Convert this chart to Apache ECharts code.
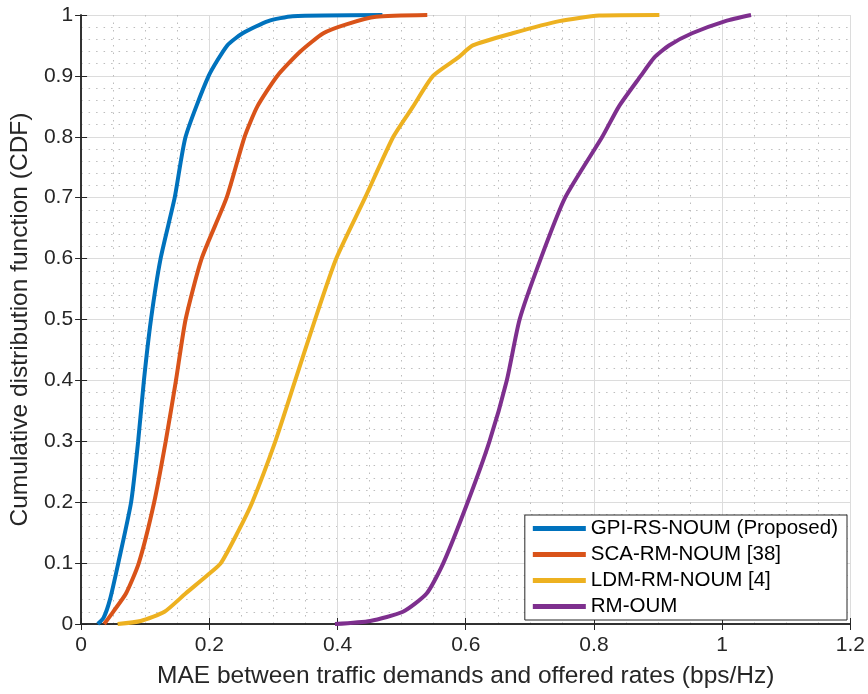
<!DOCTYPE html>
<html>
<head>
    <meta charset="utf-8">
    <title>CDF of MAE</title>
    <script src="https://cdn.jsdelivr.net/npm/echarts@6/dist/echarts.min.js"></script>
    <style>
        html, body { margin: 0; padding: 0; background: #fff; }
        #chart { width: 868px; height: 694px; }
    </style>
</head>
<body>
    <div id="chart"></div>
    <script type="text/javascript">
        // values
        var seriesNames = ['GPI-RS-NOUM (Proposed)', 'SCA-RM-NOUM [38]', 'LDM-RM-NOUM [4]', 'RM-OUM'];
        var seriesColors = ['#0072BD', '#D95319', '#EDB120', '#7E2F8E'];

        var gpiX = [0.026, 0.035, 0.045, 0.058, 0.078, 0.089, 0.098, 0.109, 0.124, 0.146, 0.163, 0.199, 0.228, 0.252, 0.292, 0.33, 0.47];
        var gpiY = [0, 0.01, 0.04, 0.1, 0.2, 0.3, 0.4, 0.5, 0.6, 0.7, 0.8, 0.9, 0.95, 0.97, 0.99, 0.998, 1];

        var scaX = [0.036, 0.05, 0.07, 0.09, 0.114, 0.132, 0.148, 0.163, 0.188, 0.227, 0.255, 0.275, 0.306, 0.342, 0.378, 0.415, 0.46, 0.54];
        var scaY = [0, 0.02, 0.05, 0.1, 0.2, 0.3, 0.4, 0.5, 0.6, 0.7, 0.8, 0.85, 0.9, 0.94, 0.97, 0.985, 0.997, 1];

        var ldmX = [0.057, 0.093, 0.13, 0.163, 0.197, 0.218, 0.244, 0.267, 0.303, 0.334, 0.365, 0.398, 0.443, 0.487, 0.518, 0.549, 0.588, 0.611, 0.673, 0.746, 0.808, 0.902];
        var ldmY = [0, 0.005, 0.02, 0.05, 0.08, 0.1, 0.15, 0.2, 0.3, 0.4, 0.5, 0.6, 0.7, 0.8, 0.85, 0.9, 0.93, 0.95, 0.97, 0.99, 0.999, 1];

        var rmX = [0.396, 0.451, 0.502, 0.539, 0.565, 0.603, 0.637, 0.664, 0.684, 0.717, 0.755, 0.813, 0.839, 0.873, 0.894, 0.917, 0.953, 1.005, 1.045];
        var rmY = [0, 0.005, 0.02, 0.05, 0.1, 0.2, 0.3, 0.4, 0.5, 0.6, 0.7, 0.8, 0.85, 0.9, 0.93, 0.95, 0.97, 0.99, 1];

        var xTicks = [0, 0.2, 0.4, 0.6, 0.8, 1, 1.2];
        var yTicks = [0, 0.1, 0.2, 0.3, 0.4, 0.5, 0.6, 0.7, 0.8, 0.9, 1];

        function pairs(xs, ys) {
            var out = [];
            for (var i = 0; i < xs.length; i++) {
                out.push([xs[i], ys[i]]);
            }
            return out;
        }

        var allData = [pairs(gpiX, gpiY), pairs(scaX, scaY), pairs(ldmX, ldmY), pairs(rmX, rmY)];

        var fontFam = 'Liberation Sans, Arial, Helvetica, sans-serif';
        var axisColor = '#262626';

        function fmt(v) {
            // MATLAB style tick labels: 0, 0.2, 1 ...
            return String(parseFloat(v.toFixed(2)));
        }

        var series = [];
        for (var i = 0; i < allData.length; i++) {
            series.push({
                name: seriesNames[i],
                type: 'line',
                data: allData[i],
                showSymbol: false,
                smooth: 0.2,
                lineStyle: { width: 4, color: seriesColors[i] },
                itemStyle: { color: seriesColors[i] },
                z: 3
            });
        }

        var chart = echarts.init(document.getElementById('chart'));
        var option = {
            animation: false,
            backgroundColor: '#fff',
            textStyle: { fontFamily: fontFam },
            grid: { left: 80, top: 15, right: 16, bottom: 68 },
            legend: {
                data: seriesNames,
                right: 21,
                bottom: 74,
                orient: 'vertical',
                backgroundColor: '#fff',
                borderColor: axisColor,
                borderWidth: 1,
                padding: [3, 9, 3, 8],
                itemGap: 5,
                itemWidth: 53,
                itemHeight: 5,
                icon: 'rect',
                textStyle: { fontSize: 20.5, color: '#000', fontFamily: fontFam }
            },
            xAxis: [{
                type: 'value',
                min: 0, max: 1.2, interval: 0.2,
                name: 'MAE between traffic demands and offered rates (bps/Hz)',
                nameLocation: 'middle',
                nameGap: 40,
                nameTextStyle: { fontSize: 24.5, color: axisColor },
                axisLine: { show: true, lineStyle: { color: axisColor, width: 1.5 } },
                axisTick: { show: true, inside: true, length: 6, lineStyle: { color: axisColor } },
                axisLabel: { fontSize: 21, color: axisColor, margin: 11, formatter: fmt },
                splitLine: { show: true, lineStyle: { color: '#dcdcdc', width: 1 } },
                minorTick: { show: false, splitNumber: 4 },
                minorSplitLine: { show: true, lineStyle: { color: '#bdbdbd', type: [1.5, 6], width: 1 } }
            }, {
                type: 'value',
                position: 'top',
                min: 0, max: 1.2, interval: 0.2,
                axisLine: { show: true, lineStyle: { color: axisColor, width: 1.5 } },
                axisTick: { show: true, inside: true, length: 6, lineStyle: { color: axisColor } },
                axisLabel: { show: false },
                splitLine: { show: false }
            }],
            yAxis: [{
                type: 'value',
                min: 0, max: 1, interval: 0.1,
                name: 'Cumulative distribution function (CDF)',
                nameLocation: 'middle',
                nameGap: 42,
                nameTextStyle: { fontSize: 24.5, color: axisColor },
                axisLine: { show: true, lineStyle: { color: axisColor, width: 1.5 } },
                axisTick: { show: true, inside: true, length: 6, lineStyle: { color: axisColor } },
                axisLabel: { fontSize: 21, color: axisColor, margin: 8, formatter: fmt },
                splitLine: { show: true, lineStyle: { color: '#dcdcdc', width: 1 } },
                minorTick: { show: false, splitNumber: 5 },
                minorSplitLine: { show: true, lineStyle: { color: '#bdbdbd', type: [1.5, 6], width: 1 } }
            }, {
                type: 'value',
                position: 'right',
                min: 0, max: 1, interval: 0.1,
                axisLine: { show: true, lineStyle: { color: axisColor, width: 1.5 } },
                axisTick: { show: true, inside: true, length: 6, lineStyle: { color: axisColor } },
                axisLabel: { show: false },
                splitLine: { show: false }
            }],
            series: series
        };
        chart.setOption(option);
    </script>
</body>
</html>
